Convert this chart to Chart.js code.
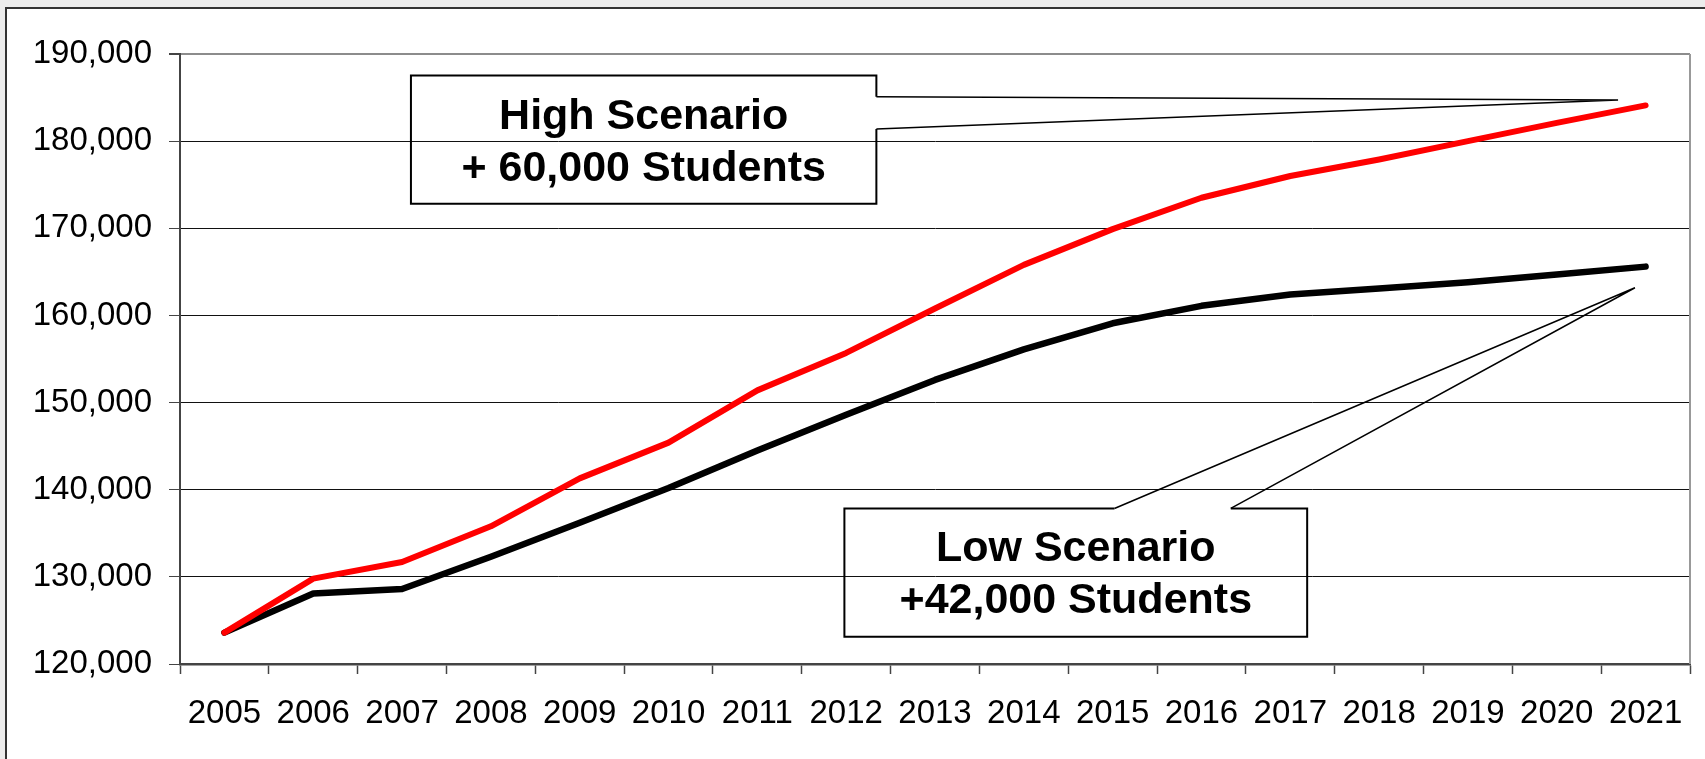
<!DOCTYPE html>
<html>
<head>
<meta charset="utf-8">
<script src="https://cdn.jsdelivr.net/npm/chart.js@4.4.1/dist/chart.umd.min.js"></script>
<style>
  html, body { margin: 0; padding: 0; background: #ececec; overflow: hidden; }
  #frame {
    position: absolute; left: 5px; top: 7px; width: 1720px; height: 770px;
    background: #ffffff; border-left: 2px solid #333; border-top: 2px solid #333;
  }
  #kt_chart { position: absolute; left: 0; top: 0; }
</style>
</head>
<body>
<div id="frame"></div>
<canvas id="kt_chart" width="1705" height="759"></canvas>
<script>
var ctx = document.getElementById('kt_chart');

// Fonts
var fontFamily = '"Liberation Sans", Arial, sans-serif';

// Chart labels
const years = ['2005', '2006', '2007', '2008', '2009', '2010', '2011', '2012', '2013',
    '2014', '2015', '2016', '2017', '2018', '2019', '2020', '2021'];

// Enrolment projections
const highScenario = [123600, 129800, 131700, 135800, 141300, 145400, 151400, 155700, 160800,
    165800, 169900, 173500, 176000, 177900, 180000, 182100, 184100];
const lowScenario = [123600, 128100, 128600, 132300, 136200, 140200, 144500, 148600, 152600,
    156100, 159100, 161100, 162400, 163100, 163800, 164700, 165600];

// Y axis ticks
const yTicks = [120000, 130000, 140000, 150000, 160000, 170000, 180000, 190000];

// Callout boxes, in axis units (category index / value)
const callouts = [
    {
        lines: ['High Scenario', '+ 60,000 Students'],
        box: { x1: 2.10, x2: 7.34, y1: 187530, y2: 172820 },
        // pointer leaves the right edge of the box
        side: 'right', base: [185090, 181380], tip: { x: 15.69, y: 184710 }
    },
    {
        lines: ['Low Scenario', '+42,000 Students'],
        box: { x1: 6.98, x2: 12.19, y1: 137850, y2: 123140 },
        // pointer leaves the top edge of the box
        side: 'top', base: [10.02, 11.33], tip: { x: 15.88, y: 163180 }
    }
];

// draws plot border and the two callouts
const calloutPlugin = {
    id: 'callouts',
    afterDatasetsDraw(chart) {
        const c = chart.ctx;
        const xs = chart.scales.x, ys = chart.scales.y;
        const area = chart.chartArea;

        c.save();
        c.strokeStyle = '#999';
        c.lineWidth = 2;
        c.beginPath();
        c.moveTo(area.right, area.top);
        c.lineTo(area.right, area.bottom);
        c.stroke();

        callouts.forEach(function (co) {
            const l = xs.getPixelForValue(co.box.x1), r = xs.getPixelForValue(co.box.x2);
            const t = ys.getPixelForValue(co.box.y1), b = ys.getPixelForValue(co.box.y2);
            const tx = xs.getPixelForValue(co.tip.x), ty = ys.getPixelForValue(co.tip.y);

            c.strokeStyle = '#000';
            c.lineJoin = 'miter';
            let a, d;
            // box outline, open where the pointer starts
            c.lineWidth = 2;
            c.beginPath();
            if (co.side === 'right') {
                a = ys.getPixelForValue(co.base[0]);
                d = ys.getPixelForValue(co.base[1]);
                c.moveTo(r, d);
                c.lineTo(r, b);
                c.lineTo(l, b);
                c.lineTo(l, t);
                c.lineTo(r, t);
                c.lineTo(r, a);
                c.stroke();
                c.beginPath();
                c.lineWidth = 1.5;
                c.moveTo(r, a);
                c.lineTo(tx, ty);
                c.lineTo(r, d);
                c.stroke();
            } else {
                a = xs.getPixelForValue(co.base[0]);
                d = xs.getPixelForValue(co.base[1]);
                c.moveTo(a, t);
                c.lineTo(l, t);
                c.lineTo(l, b);
                c.lineTo(r, b);
                c.lineTo(r, t);
                c.lineTo(d, t);
                c.stroke();
                c.beginPath();
                c.lineWidth = 1.5;
                c.moveTo(a, t);
                c.lineTo(tx, ty);
                c.lineTo(d, t);
                c.stroke();
            }

            c.fillStyle = '#000';
            c.font = 'bold 43px ' + fontFamily;
            c.textAlign = 'center';
            c.textBaseline = 'alphabetic';
            const cx = (l + r) / 2;
            c.fillText(co.lines[0], cx, t + 53);
            c.fillText(co.lines[1], cx, t + 105);
        });
        c.restore();
    }
};

// Chart data
const data = {
    labels: years,
    datasets: [
        {
            label: 'High Scenario',
            data: highScenario,
            borderColor: '#ff0000',
            borderWidth: 6,
        },
        {
            label: 'Low Scenario',
            data: lowScenario,
            borderColor: '#000000',
            borderWidth: 6.5,
        }
    ]
};

// Chart config
const config = {
    type: 'line',
    data: data,
    options: {
        responsive: false,
        animation: false,
        layout: {
            padding: { top: 54, right: 15, left: 0, bottom: 0 }
        },
        elements: {
            point: { radius: 0 },
            line: { tension: 0, borderCapStyle: 'round', borderJoinStyle: 'round' }
        },
        plugins: {
            legend: { display: false },
            title: { display: false },
            tooltip: { enabled: false }
        },
        scales: {
            x: {
                offset: true,
                afterFit: function (scale) { scale.height = 95; },
                grid: {
                    offset: true,
                    drawOnChartArea: false,
                    drawTicks: true,
                    tickLength: 10,
                    tickColor: '#444',
                    tickWidth: 1.5
                },
                border: { color: '#444', width: 2.5 },
                ticks: {
                    color: '#000',
                    font: { family: fontFamily, size: 33 },
                    padding: 20,
                    maxRotation: 0,
                    autoSkip: false
                }
            },
            y: {
                min: yTicks[0],
                max: yTicks[yTicks.length - 1],
                afterFit: function (scale) { scale.width = 180; },
                afterBuildTicks: function (scale) {
                    scale.ticks = yTicks.map(function (v) { return { value: v }; });
                },
                grid: {
                    color: function (c) { return c.tick && c.tick.value === 190000 ? '#8c8c8c' : '#111'; },
                    lineWidth: function (c) { return c.tick && c.tick.value === 190000 ? 2 : 1; },
                    tickLength: 11,
                    tickColor: '#444'
                },
                border: { color: '#444', width: 2 },
                ticks: {
                    color: '#000',
                    font: { family: fontFamily, size: 33 },
                    padding: 17,
                    callback: function (v) { return Number(v).toLocaleString('en-US'); }
                }
            }
        }
    },
    plugins: [calloutPlugin]
};

var myChart = new Chart(ctx, config);
</script>
</body>
</html>
